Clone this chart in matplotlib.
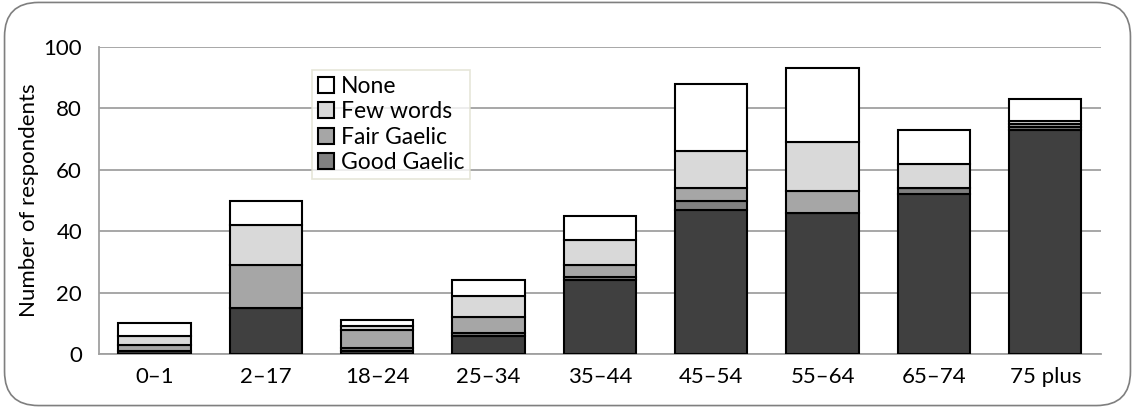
import matplotlib.pyplot as plt
import numpy as np
from matplotlib.patches import FancyBboxPatch

plt.rcParams['font.family'] = ['Lato', 'DejaVu Sans']

# data
ages = ['0\u20131', '2\u201317', '18\u201324', '25\u201334', '35\u201344',
        '45\u201354', '55\u201364', '65\u201374', '75 plus']
native = [1, 15, 1, 6, 24, 47, 46, 52, 73]
good_gaelic = [0, 0, 1, 1, 1, 3, 0, 2, 1]
fair_gaelic = [2, 14, 6, 5, 4, 4, 7, 0, 1]
few_words = [3, 13, 1, 7, 8, 12, 16, 8, 1]
none = [4, 8, 2, 5, 8, 22, 24, 11, 7]

series = [('Native', native, '#404040'),
          ('Good Gaelic', good_gaelic, '#808080'),
          ('Fair Gaelic', fair_gaelic, '#a6a6a6'),
          ('Few words', few_words, '#d9d9d9'),
          ('None', none, '#ffffff')]

fig = plt.figure(figsize=(11.35, 4.08), dpi=100)
ax = fig.add_axes([0.087, 0.132, 0.883, 0.753])

x = np.arange(len(ages))
bottom = np.zeros(len(ages))
handles = {}
for name, vals, col in series:
    b = ax.bar(x, vals, 0.65, bottom=bottom, color=col, edgecolor='black',
               linewidth=1.5, zorder=3)
    handles[name] = b
    bottom += np.array(vals)

ax.set_ylim(0, 100)
ax.set_xlim(-0.5, len(ages) - 0.5)
ax.set_yticks(range(0, 101, 20))
ax.set_xticks(x)
ax.set_xticklabels(ages)
ax.tick_params(length=0, labelsize=16, colors='black', pad=9)
ax.tick_params(axis='y', pad=12)
ax.yaxis.grid(True, color='#a0a0a0', linewidth=1.3, zorder=0)
for s in ['top', 'right']:
    ax.spines[s].set_visible(False)
for s in ['left', 'bottom']:
    ax.spines[s].set_color('#a0a0a0')
    ax.spines[s].set_linewidth(1.3)
ax.set_ylabel('Number of respondents', fontsize=16, labelpad=3)

leg_names = ['None', 'Few words', 'Fair Gaelic', 'Good Gaelic']
leg = ax.legend([handles[n] for n in leg_names], leg_names, loc='upper left',
                bbox_to_anchor=(0.213, 0.925), fontsize=16.5, frameon=True,
                fancybox=False, edgecolor='#e0e0d0', handlelength=0.7,
                handleheight=0.7, handletextpad=0.3, labelspacing=0.2,
                borderpad=0.25, borderaxespad=0)
leg.get_frame().set_linewidth(1.2)
leg.set_zorder(5)

border = FancyBboxPatch((0.004, 0.006), 0.992, 0.988,
                        boxstyle='round,pad=0,rounding_size=0.03',
                        transform=fig.transFigure, facecolor='none',
                        edgecolor='#7f7f7f', linewidth=1.2,
                        mutation_aspect=1135 / 408)
fig.patches.append(border)

fig.savefig('out.png', dpi=100)
